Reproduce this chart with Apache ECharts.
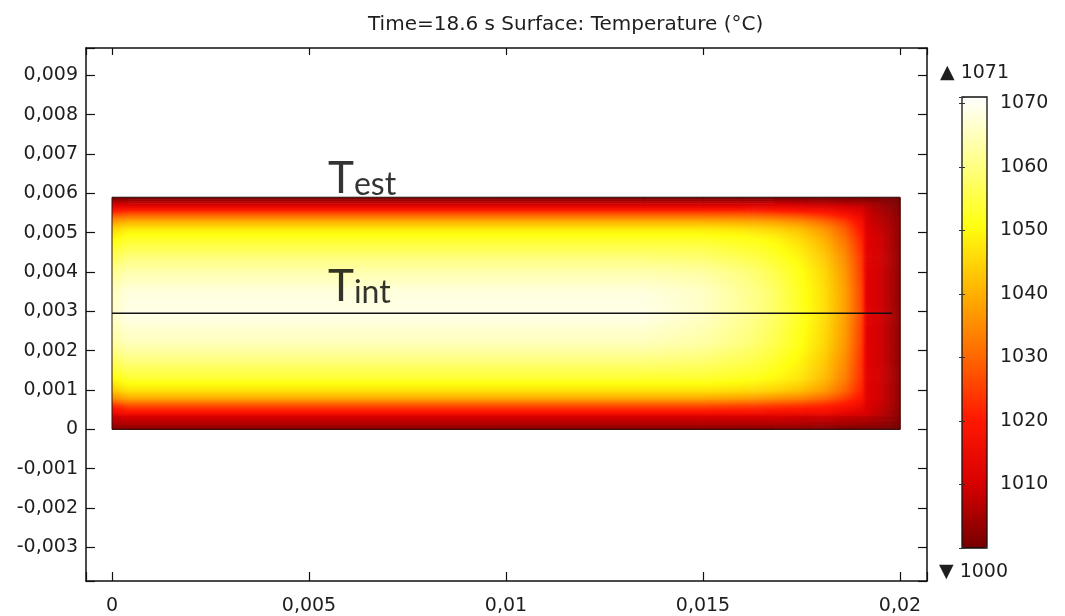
<!DOCTYPE html>
<html><head><meta charset="utf-8">
<script src="https://cdn.jsdelivr.net/npm/echarts@6/dist/echarts.min.js"></script>
<style>html,body{margin:0;padding:0;background:#fff}#chart{width:1065px;height:616px}</style>
</head><body><div id="chart"></div>
<script>
// ---------- data ----------
const titleText = 'Time=18.6 s Surface: Temperature (°C)';
// node positions of the temperature field (m)
const xNodes = [0, 0.0004, 0.0135, 0.015, 0.016, 0.0168, 0.0175, 0.0181, 0.0186, 0.01905, 0.01915, 0.01955, 0.02];
const yNodes = [0, 0.00015, 0.00036, 0.0004, 0.0006, 0.0008, 0.001, 0.0013, 0.0017, 0.0022, 0.00295,
                0.0035, 0.004, 0.0044, 0.0047, 0.0049, 0.0051, 0.0053, 0.0055, 0.0057, 0.0059];
// temperature (°C) at the nodes, rows bottom -> top, columns left -> right
const temperature = [
  [1001,1001,1001,1001,1001,1001,1001,1001,1000,1000,1000,1000,1000],
  [1005,1006,1006,1006,1006,1006,1006,1005,1005,1004,1004,1003,1001],
  [1009,1011,1011,1011,1011,1011,1010,1010,1009,1008,1008,1006,1002],
  [1014,1017,1017,1017,1017,1016,1016,1015,1013,1011,1010,1007,1002],
  [1022,1026,1026,1026,1025,1024,1023,1021,1019,1015,1011,1008,1003],
  [1035,1039,1039,1039,1038,1036,1034,1030,1025,1019,1012,1009,1003],
  [1043,1047,1047,1047,1046,1045,1042,1037,1030,1021,1012,1009,1003],
  [1050,1053,1053,1053,1052,1050,1047,1041,1033,1022,1012,1009,1003],
  [1056,1059,1059,1058,1056,1053,1049,1043,1035,1023,1012,1009,1003],
  [1062,1065,1065,1063,1060,1056,1051,1045,1037,1024,1012,1009,1003],
  [1066,1069,1069,1066,1062,1058,1052,1046,1038,1025,1012,1009,1003],
  [1065,1068,1068,1066,1062,1058,1052,1046,1038,1025,1012,1009,1003],
  [1061,1064,1064,1063,1060,1056,1051,1045,1037,1024,1012,1009,1003],
  [1056,1059,1059,1058,1056,1053,1049,1043,1035,1023,1012,1009,1003],
  [1052,1055,1055,1055,1053,1051,1047,1041,1033,1022,1012,1009,1003],
  [1049,1052,1052,1052,1051,1049,1045,1039,1031,1021,1012,1009,1003],
  [1045,1048,1048,1048,1047,1045,1042,1036,1029,1019,1011,1008,1003],
  [1037,1040,1040,1040,1039,1038,1035,1030,1025,1017,1010,1007,1003],
  [1025,1027,1027,1027,1027,1026,1024,1021,1018,1013,1009,1006,1002],
  [1011,1012,1012,1012,1012,1012,1011,1010,1009,1008,1007,1004,1001],
  [1000,1000,1000,1000,1000,1000,1000,1000,1000,1000,1000,1000,1000]
];
// domain outline and cut line
const outlineX = [0, 0.02, 0.02, 0, 0];
const outlineY = [0, 0, 0.0059, 0.0059, 0];
const cutLineX = [0, 0.0198];
const cutLineY = [0.00295, 0.00295];
// annotations (bottom-left anchor in data units)
const annoMain = ['T', 'T'];
const annoSub = ['est', 'int'];
const annoX = [0.00548, 0.00548];
const annoY = [0.00581, 0.00307];
// colour range
const tMin = 1000, tMax = 1071;
const maxLabel = '▲ 1071', minLabel = '▼ 1000';
const palette = ['#760000','#d80000','#ff1800','#ff6a00','#ffb400','#ffff10','#ffff8c','#ffffff'];

// ---------- chart ----------
const TXT = '#1e1e1e', LINE = '#111';
const FONT = 'DejaVu Sans';
function colorOf(v) {
  let t = (v - tMin) / (tMax - tMin);
  t = Math.max(0, Math.min(1, t));
  return echarts.color.lerp(t, palette);
}
function fmt(step) {
  return function (v) {
    const k = Math.round(v / step);
    if (Math.abs(v / step - k) > 1e-6) return '';
    const n = k * step;
    if (n === 0) return '0';
    return String(parseFloat(n.toFixed(4))).replace('.', ',');
  };
}
const cells = [];
for (let j = 0; j < yNodes.length - 1; j++) {
  for (let i = 0; i < xNodes.length - 1; i++) {
    const avg = (temperature[j][i] + temperature[j][i + 1] + temperature[j + 1][i] + temperature[j + 1][i + 1]) / 4;
    cells.push([i, j, avg]);
  }
}
const chart = echarts.init(document.getElementById('chart'), null, { renderer: 'canvas' });
const xMin = -0.00066, xMax = 0.020685, yMin = -0.003858, yMax = 0.009695;
const axisCommon = {
  type: 'value', gridIndex: 0,
  axisLine: { show: true, onZero: false, lineStyle: { color: LINE, width: 1.5 } },
  splitLine: { show: false },
  axisTick: { show: true, inside: true, length: 9, lineStyle: { color: LINE, width: 1.2 } }
};
const option = {
  backgroundColor: '#fff',
  animation: false,
  title: [
    { text: titleText, left: 368, top: 14, padding: 0, textStyle: { fontFamily: FONT, fontSize: 20, fontWeight: 'normal', color: TXT, lineHeight: 22 } },
    { text: maxLabel, left: 940, top: 62, padding: 0, textStyle: { fontFamily: FONT, fontSize: 19, fontWeight: 'normal', color: TXT, lineHeight: 22 } },
    { text: minLabel, left: 939, top: 561, padding: 0, textStyle: { fontFamily: FONT, fontSize: 19, fontWeight: 'normal', color: TXT, lineHeight: 22 } }
  ],
  grid: [
    { left: 86, top: 48, width: 841, height: 534, show: false },
    { left: 962, top: 97, width: 25, height: 451, show: true, z: 10, backgroundColor: 'transparent', borderColor: LINE, borderWidth: 1.3 }
  ],
  visualMap: {
    type: 'continuous', min: tMin, max: tMax, orient: 'vertical',
    left: 962, top: 97, itemWidth: 25, itemHeight: 451, padding: 0,
    calculable: false, hoverLink: false, seriesIndex: 0, dimension: 2,
    inRange: { color: palette }
  },
  xAxis: [
    Object.assign({}, axisCommon, { position: 'bottom', min: xMin, max: xMax, minInterval: 0.005, maxInterval: 0.005,
      axisLabel: { show: true, margin: 16, fontFamily: FONT, fontSize: 19, color: TXT, formatter: fmt(0.005) } }),
    Object.assign({}, axisCommon, { position: 'top', min: xMin, max: xMax, minInterval: 0.005, maxInterval: 0.005,
      axisTick: { show: true, inside: true, length: 7, lineStyle: { color: LINE, width: 1.2 } },
      axisLabel: { show: false } }),
    { type: 'value', gridIndex: 1, min: 0, max: 1, show: false }
  ],
  yAxis: [
    Object.assign({}, axisCommon, { position: 'left', min: yMin, max: yMax, minInterval: 0.001, maxInterval: 0.001, splitNumber: 12,
      axisLabel: { show: true, margin: 8, fontFamily: FONT, fontSize: 19, color: TXT, formatter: fmt(0.001) } }),
    Object.assign({}, axisCommon, { position: 'right', min: yMin, max: yMax, minInterval: 0.001, maxInterval: 0.001, splitNumber: 12,
      axisLabel: { show: false } }),
    { type: 'value', gridIndex: 1, position: 'right', min: tMin, max: tMax, interval: 10, z: 11,
      axisLine: { show: false }, splitLine: { show: false },
      axisTick: { show: true, inside: true, length: 3, lineStyle: { color: '#333', width: 1 } },
      axisLabel: { show: true, margin: 13, fontFamily: FONT, fontSize: 19, color: TXT,
        formatter: function (v) { return (v === tMin || v === tMax) ? '' : String(v); } } },
    { type: 'value', gridIndex: 1, position: 'left', min: tMin, max: tMax, interval: 10, z: 11,
      axisLine: { show: false }, splitLine: { show: false },
      axisTick: { show: true, inside: true, length: 3, lineStyle: { color: '#333', width: 1 } },
      axisLabel: { show: false } }
  ],
  series: [
    {
      type: 'custom', name: 'Temperature', xAxisIndex: 0, yAxisIndex: 0, data: cells, z: 2,
      renderItem: function (params, api) {
        const i = api.value(0), j = api.value(1);
        const pA = api.coord([xNodes[i], yNodes[j]]);
        const pB = api.coord([xNodes[i + 1], yNodes[j + 1]]);
        const v00 = temperature[j][i], v10 = temperature[j][i + 1];
        const v01 = temperature[j + 1][i], v11 = temperature[j + 1][i + 1];
        const w = pB[0] - pA[0], h = pA[1] - pB[1];
        const nx = (v00 === v10 && v01 === v11) ? 1 : Math.max(1, Math.ceil(w / 2));
        const ny = Math.max(1, Math.ceil(h / 2));
        const children = [];
        for (let a = 0; a < nx; a++) {
          for (let b = 0; b < ny; b++) {
            const u = (a + 0.5) / nx, t = (b + 0.5) / ny;
            const v = v00 * (1 - u) * (1 - t) + v10 * u * (1 - t) + v01 * (1 - u) * t + v11 * u * t;
            children.push({
              type: 'rect',
              shape: { x: pA[0] + w * a / nx, y: pA[1] - h * (b + 1) / ny, width: w / nx + 0.6, height: h / ny + 0.6 },
              style: { fill: colorOf(v) }
            });
          }
        }
        return { type: 'group', children: children };
      }
    },
    {
      type: 'line', name: 'outline', xAxisIndex: 0, yAxisIndex: 0, z: 3, symbol: 'none', silent: true,
      data: outlineX.map((x, k) => [x, outlineY[k]]),
      lineStyle: { color: '#2a1010', width: 1 }
    },
    {
      type: 'line', name: 'cut line', xAxisIndex: 0, yAxisIndex: 0, z: 4, symbol: 'none', silent: true,
      data: cutLineX.map((x, k) => [x, cutLineY[k]]),
      lineStyle: { color: '#111', width: 1.5 }
    },
    {
      type: 'scatter', name: 'labels', xAxisIndex: 0, yAxisIndex: 0, z: 5, symbolSize: 0, silent: true,
      data: annoX.map((x, k) => ({ value: [x, annoY[k]], big: annoMain[k], small: annoSub[k] })),
      label: {
        show: true, position: [0, 0], align: 'left', verticalAlign: 'bottom',
        formatter: p => '{big|' + p.data.big + '}{small|' + p.data.small + '}',
        rich: {
          big: { fontFamily: 'Lato', fontSize: 44, lineHeight: 44, color: '#000', verticalAlign: 'bottom' },
          small: { fontFamily: 'Lato', fontSize: 32, lineHeight: 32, color: '#000', verticalAlign: 'bottom' }
        }
      }
    }
  ]
};
chart.setOption(option);
</script>
</body></html>
